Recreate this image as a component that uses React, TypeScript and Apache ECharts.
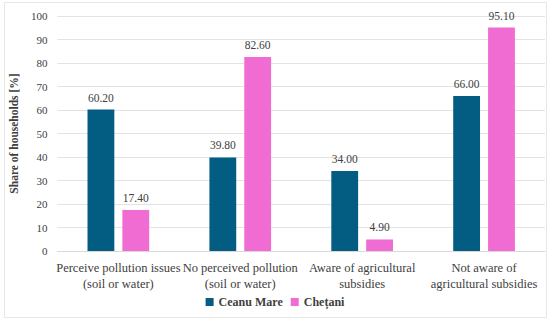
import React, { useEffect, useRef } from "react";
import * as echarts from "echarts";

const categories = [
  "Perceive pollution issues\n(soil or water)",
  "No perceived pollution\n(soil or water)",
  "Aware of agricultural\nsubsidies",
  "Not aware of\nagricultural subsidies",
];
const ceanuMare = [60.2, 39.8, 34.0, 66.0];
const chetani = [17.4, 82.6, 4.9, 95.1];
const seriesNames = ["Ceanu Mare", "Chețani"];

const FONT = "Liberation Serif";

export default function App() {
  const ref = useRef<HTMLDivElement>(null);
  useEffect(() => {
    if (!ref.current) return;
    const chart = echarts.init(ref.current, null, { renderer: "svg" });
    const labelStyle = {
      show: true,
      position: "top" as const,
      distance: 6,
      fontFamily: FONT,
      fontSize: 11.5,
      color: "#404040",
      formatter: (p: any) => Number(p.value).toFixed(2),
    };
    chart.setOption({
      animation: false,
      backgroundColor: "#ffffff",
      textStyle: { fontFamily: FONT },
      graphic: [
        {
          type: "rect",
          shape: { x: 4.5, y: 2.5, width: 542, height: 315 },
          style: { fill: "none", stroke: "#e6e6e6", lineWidth: 1 },
          silent: true,
        },
      ],
      grid: { left: 50, right: 5, top: 16, bottom: 72, containLabel: false },
      legend: {
        bottom: 10,
        left: "center",
        itemWidth: 8,
        itemHeight: 8,
        itemGap: 8,
        icon: "rect",
        textStyle: { fontFamily: FONT, fontSize: 12, fontWeight: "bold", color: "#404040" },
        data: seriesNames,
      },
      xAxis: {
        type: "category",
        data: categories,
        axisTick: { show: false },
        axisLine: { lineStyle: { color: "#d9d9d9" } },
        axisLabel: {
          interval: 0,
          margin: 9,
          fontFamily: FONT,
          fontSize: 12.5,
          lineHeight: 16,
          color: "#404040",
        },
      },
      yAxis: {
        type: "value",
        min: 0,
        max: 100,
        interval: 10,
        name: "Share of households [%]",
        nameLocation: "middle",
        nameGap: 33,
        nameTextStyle: { fontFamily: FONT, fontSize: 11.5, fontWeight: "bold", color: "#404040" },
        axisLabel: { fontFamily: FONT, fontSize: 11, color: "#404040", margin: 10 },
        splitLine: { lineStyle: { color: "#e3e3e3" } },
        axisLine: { show: false },
        axisTick: { show: false },
      },
      series: [
        {
          name: seriesNames[0],
          type: "bar",
          data: ceanuMare,
          barWidth: "22%",
          barGap: "30%",
          itemStyle: { color: "#035c82" },
          label: labelStyle,
        },
        {
          name: seriesNames[1],
          type: "bar",
          data: chetani,
          barWidth: "22%",
          barGap: "30%",
          itemStyle: { color: "#f06bd2" },
          label: labelStyle,
        },
      ],
    });
    return () => chart.dispose();
  }, []);
  return (
    <div
      ref={ref}
      style={{ position: "fixed", left: 0, top: 0, width: 550, height: 323, background: "#fff" }}
    />
  );
}
